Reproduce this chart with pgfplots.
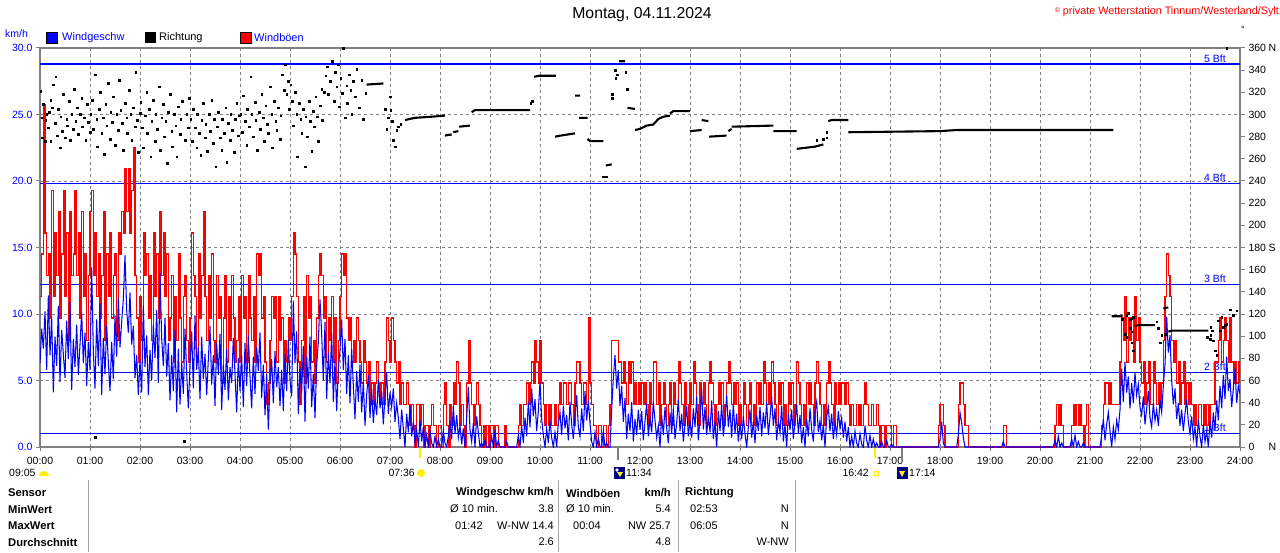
\documentclass[border=0pt]{standalone}
\usepackage{fontspec}
\setmainfont{Liberation Sans}
\usepackage{pgfplots}
\usepackage{pgfplotstable}
\pgfplotsset{compat=1.18}
\definecolor{wblue}{RGB}{0,0,255}
\definecolor{wred}{RGB}{255,0,0}
\definecolor{fgray}{RGB}{128,128,128}
\definecolor{sunyellow}{RGB}{255,240,0}
\definecolor{moonnavy}{RGB}{0,0,128}
\newcommand\tickfont{\fontsize{10.5}{12}\selectfont}
\newcommand\legfont{\fontsize{11}{13}\selectfont}
\newcommand\tabfont{\fontsize{11}{13}\selectfont}
\newcommand\tabbold{\fontsize{11.2}{13}\selectfont\bfseries}

\pgfplotstableread{
t w g
0 6.3 11.3
2 8.9 14.5
4 7.4 25.7
6 10.2 16.1
8 5.8 12.9
10 11.4 14.5
12 6.9 9.7
14 9.8 19.3
16 4.1 11.3
18 8.3 16.1
20 6.1 12.9
22 10.6 17.7
24 4.9 9.7
26 8.8 14.5
28 7.0 19.3
30 5.2 11.3
32 9.5 16.1
34 6.6 8.0
36 10.9 17.7
38 4.3 12.9
40 8.1 14.5
42 6.0 19.3
44 9.2 12.9
46 5.4 16.1
48 7.7 9.7
50 10.1 17.7
52 6.3 11.3
54 8.6 14.5
56 4.6 8.0
58 7.9 12.9
60 5.8 17.7
62 13.5 19.3
64 7.2 12.9
66 4.4 16.1
68 9.6 11.3
70 6.1 14.5
72 10.8 9.7
74 3.9 12.9
76 8.2 17.7
78 5.5 8.0
80 9.1 14.5
82 6.4 11.3
84 4.2 16.1
86 7.9 9.7
88 5.1 12.9
90 9.9 14.5
92 6.8 8.0
94 11.2 16.1
96 7.5 14.5
98 9.4 17.7
100 11.1 16.1
102 14.4 20.9
104 10.3 17.7
106 8.6 20.9
108 11.6 16.1
110 7.7 19.3
112 9.1 22.5
114 5.2 12.9
116 6.9 9.7
118 3.9 6.4
120 6.5 11.3
122 4.1 8.0
124 10.6 16.1
126 6.0 12.9
128 8.4 14.5
130 3.9 9.7
132 7.3 12.9
134 5.0 8.0
136 9.2 16.1
138 6.7 11.3
140 10.3 14.5
142 4.8 9.7
144 13.1 17.7
146 8.2 12.9
148 6.1 16.1
150 9.7 11.3
152 5.3 14.5
154 7.8 8.0
156 3.5 9.7
158 6.9 12.9
160 4.2 6.4
162 8.8 11.3
164 2.6 8.0
166 7.4 14.5
168 3.2 9.7
170 6.3 6.4
172 4.0 11.3
174 8.9 12.9
176 5.6 8.0
178 2.9 6.4
180 6.2 9.7
182 8.7 16.1
184 4.4 12.9
186 9.9 11.3
188 5.8 6.4
190 7.5 14.5
192 3.6 9.7
194 8.3 12.9
196 5.1 17.7
198 7.0 11.3
200 3.9 8.0
202 6.6 12.9
204 9.1 9.7
206 4.7 14.5
208 6.9 8.0
210 3.1 6.4
212 7.8 12.9
214 5.4 9.7
216 8.5 11.3
218 2.8 4.8
220 6.2 9.7
222 4.3 12.9
224 7.4 6.4
226 3.5 11.3
228 6.0 8.0
230 4.8 12.9
232 8.2 9.7
234 5.5 6.4
236 2.6 8.0
238 6.7 11.3
240 4.2 6.4
242 6.9 12.9
244 3.0 9.7
246 7.8 11.3
248 4.6 6.4
250 8.4 12.9
252 5.3 9.7
254 2.9 8.0
256 6.8 11.3
258 4.0 6.4
260 7.5 14.5
262 5.7 12.9
264 8.6 14.5
266 3.7 9.7
268 6.2 11.3
270 2.4 6.4
272 5.5 3.2
274 1.3 4.8
276 4.8 8.0
278 6.6 11.3
280 3.3 9.7
282 7.2 11.3
284 4.5 6.4
286 6.0 11.3
288 3.1 8.0
290 5.8 9.7
292 2.7 4.8
294 7.0 8.0
296 4.2 6.4
298 8.1 9.7
300 5.0 8.0
302 3.8 11.3
304 11.0 16.1
306 6.3 14.5
308 8.7 11.3
310 2.5 6.4
312 5.9 3.2
314 4.1 8.0
316 7.6 11.3
318 1.9 4.8
320 6.8 12.9
322 4.4 9.7
324 8.3 11.3
326 3.0 6.4
328 5.5 8.0
330 2.2 4.8
332 6.1 9.7
334 7.9 12.9
336 11.1 14.5
338 8.5 12.9
340 5.0 9.7
342 9.4 11.3
344 3.6 6.4
346 7.1 9.7
348 4.8 8.0
350 8.6 11.3
352 3.4 6.4
354 6.5 9.7
356 2.7 4.8
358 5.9 8.0
360 7.3 11.3
362 9.6 14.5
364 5.8 12.9
366 8.1 14.5
368 4.0 9.7
370 6.9 8.0
372 3.3 9.7
374 7.4 6.4
376 4.6 8.0
378 2.1 6.4
380 5.7 9.7
382 3.4 8.0
384 6.2 6.4
386 2.6 4.8
388 4.9 8.0
390 1.6 6.4
392 3.9 4.8
394 5.4 6.4
396 2.2 3.2
398 4.4 4.8
400 1.8 3.2
402 3.6 4.8
404 2.4 6.4
406 5.1 4.8
408 2.9 3.2
410 4.2 4.8
412 1.7 3.2
414 3.8 6.4
416 5.6 9.7
418 2.5 8.0
420 4.1 6.4
422 3.0 9.7
424 4.4 8.0
426 1.9 6.4
428 3.3 4.8
430 2.2 6.4
432 0.6 3.2
434 2.8 4.8
436 1.4 3.2
438 0.0 3.2
440 2.5 4.8
442 1.1 3.2
444 3.1 1.6
446 0.8 3.2
448 1.9 1.6
450 0.3 0.0
452 1.3 3.2
454 0.0 3.2
456 2.0 1.6
458 0.4 3.2
460 1.5 0.0
462 0.0 1.6
464 0.9 1.6
466 0.0 0.0
468 1.2 1.6
470 0.3 3.2
472 0.0 1.6
474 0.8 1.6
476 0.0 0.0
478 0.6 1.6
480 0.0 1.6
482 0.0 0.0
484 1.2 3.2
486 0.3 4.8
488 0.0 1.6
490 0.8 0.0
492 1.9 3.2
494 0.6 1.6
496 3.1 4.8
498 1.0 3.2
500 2.4 6.4
502 0.7 4.8
504 1.6 1.6
506 0.2 3.2
508 1.4 1.6
510 0.0 0.0
512 2.2 4.8
514 4.5 8.0
516 1.3 4.8
518 0.4 3.2
520 1.8 1.6
522 0.0 3.2
524 2.3 4.8
526 1.1 3.2
528 0.0 1.6
530 0.3 0.0
532 0.0 1.6
534 0.5 0.0
536 0.0 1.6
538 0.0 0.0
540 0.0 1.6
542 0.8 1.6
544 0.0 0.0
546 1.3 1.6
548 0.0 1.6
550 0.5 0.0
552 0.0 0.0
556 0.0 0.0
558 0.0 1.6
560 0.4 0.0
562 0.0 0.0
572 0.0 0.0
574 0.9 1.6
576 0.0 3.2
578 1.6 1.6
580 0.3 3.2
582 2.2 3.2
584 0.8 4.8
586 3.4 3.2
588 1.5 4.8
590 4.4 6.4
592 2.3 4.8
594 3.6 8.0
596 1.2 6.4
598 2.7 4.8
600 4.9 8.0
602 2.1 4.8
604 0.9 3.2
606 0.0 1.6
608 1.4 3.2
610 0.3 1.6
612 2.0 3.2
614 0.7 1.6
616 0.0 1.6
618 1.1 3.2
620 0.0 1.6
622 1.8 3.2
624 2.6 4.8
626 0.9 3.2
628 3.1 4.8
630 1.4 4.8
632 2.4 3.2
634 0.5 4.8
636 3.4 4.8
638 1.7 3.2
640 0.6 1.6
642 2.3 4.8
644 3.9 6.4
646 1.5 6.4
648 0.8 4.8
650 2.9 3.2
652 1.2 4.8
654 4.2 4.8
656 2.0 3.2
658 3.5 9.7
660 1.8 4.8
662 0.4 3.2
664 0.0 1.6
666 1.1 1.6
668 0.0 0.0
670 0.7 1.6
672 0.0 1.6
674 0.0 0.0
676 1.2 1.6
678 0.0 1.6
680 0.3 0.0
682 0.0 1.6
684 0.0 3.2
686 2.8 8.0
688 5.2 8.0
690 6.9 8.0
692 4.4 8.0
694 5.8 6.4
696 3.1 6.4
698 4.6 4.8
700 1.9 6.4
702 3.7 4.8
704 0.6 3.2
706 2.5 6.4
708 1.2 4.8
710 3.4 6.4
712 0.4 3.2
714 2.1 4.8
716 0.9 3.2
718 2.8 4.8
720 1.3 3.2
722 2.7 4.8
724 0.5 3.2
726 1.9 4.8
728 3.3 3.2
730 0.8 1.6
732 2.2 4.8
734 1.1 3.2
736 3.4 6.4
738 2.0 6.4
740 0.7 3.2
742 1.6 4.8
744 0.0 1.6
746 2.4 3.2
748 0.9 4.8
750 3.0 3.2
752 1.4 1.6
754 0.3 3.2
756 2.6 4.8
758 1.0 1.6
760 2.9 4.8
762 0.6 3.2
764 1.8 3.2
766 3.6 6.4
768 1.2 4.8
770 2.5 3.2
772 0.4 1.6
774 1.7 4.8
776 3.1 3.2
778 0.8 1.6
780 2.0 4.8
782 0.7 3.2
784 2.9 6.4
786 1.5 4.8
788 3.8 3.2
790 0.5 1.6
792 2.2 4.8
794 4.4 3.2
796 1.3 4.8
798 3.0 3.2
800 0.9 1.6
802 2.4 4.8
804 1.1 6.4
806 3.5 4.8
808 0.6 3.2
810 1.9 1.6
812 0.0 3.2
814 2.7 4.8
816 1.2 3.2
818 3.2 4.8
820 0.8 1.6
822 2.1 3.2
824 3.9 4.8
826 1.5 6.4
828 2.8 4.8
830 0.7 3.2
832 3.3 4.8
834 1.0 3.2
836 2.5 4.8
838 0.4 1.6
840 1.8 3.2
842 0.6 1.6
844 2.3 4.8
846 1.0 3.2
848 0.0 1.6
850 1.5 3.2
852 2.8 4.8
854 0.7 1.6
856 1.9 3.2
858 0.3 1.6
860 2.4 4.8
862 1.2 3.2
864 3.0 4.8
866 0.8 3.2
868 2.6 6.4
870 1.4 4.8
872 3.4 3.2
874 0.9 4.8
876 2.2 3.2
878 3.8 6.4
880 1.6 4.8
882 2.9 3.2
884 0.5 1.6
886 2.0 4.8
888 1.1 3.2
890 3.1 4.8
892 0.4 1.6
894 1.7 3.2
896 0.0 1.6
898 2.5 4.8
900 1.3 3.2
902 2.8 4.8
904 0.6 1.6
906 1.9 3.2
908 3.2 6.4
910 1.0 4.8
912 2.4 3.2
914 0.3 1.6
916 1.5 3.2
918 0.0 1.6
920 2.1 4.8
922 0.8 3.2
924 2.9 4.8
926 1.3 3.2
928 0.4 1.6
930 2.6 4.8
932 3.4 6.4
934 1.1 4.8
936 2.0 3.2
938 0.5 1.6
940 1.7 3.2
942 0.0 1.6
944 2.3 4.8
946 3.0 6.4
948 1.2 4.8
950 2.5 3.2
952 0.6 1.6
954 1.8 4.8
956 0.9 3.2
958 2.7 4.8
960 1.4 3.2
962 2.2 4.8
964 0.7 4.8
966 1.9 3.2
968 0.4 4.8
970 1.5 3.2
972 0.0 1.6
974 0.8 3.2
976 0.0 1.6
978 1.2 1.6
980 0.3 3.2
982 0.0 1.6
984 1.0 3.2
986 0.2 1.6
988 0.0 3.2
990 1.6 4.8
992 0.5 3.2
994 0.0 1.6
996 0.9 1.6
998 0.0 3.2
1000 0.6 1.6
1002 0.0 1.6
1004 0.3 3.2
1006 0.0 1.6
1008 0.0 0.0
1010 0.4 1.6
1012 0.0 1.6
1014 0.0 0.0
1016 0.5 1.6
1018 0.0 1.6
1020 0.0 1.6
1022 0.2 0.0
1024 0.0 1.6
1026 0.0 1.6
1028 0.0 0.0
1076 0.0 0.0
1078 0.0 1.6
1080 0.6 3.2
1082 1.9 3.2
1084 0.3 1.6
1086 0.0 0.0
1100 0.0 0.0
1102 0.9 3.2
1104 2.6 4.8
1106 1.8 4.8
1108 0.7 3.2
1110 0.0 1.6
1112 0.0 1.6
1114 0.0 0.0
1154 0.0 0.0
1156 0.4 1.6
1158 0.0 1.6
1160 0.0 0.0
1216 0.0 0.0
1218 0.5 1.6
1220 0.0 3.2
1222 0.8 1.6
1224 0.0 3.2
1226 0.3 1.6
1228 0.0 0.0
1236 0.0 0.0
1238 0.6 1.6
1240 0.0 3.2
1242 0.9 1.6
1244 0.0 3.2
1246 0.4 1.6
1248 0.0 3.2
1250 0.0 1.6
1252 0.3 0.0
1254 0.0 1.6
1256 0.0 3.2
1258 0.0 0.0
1272 0.0 0.0
1274 0.9 1.6
1276 2.1 3.2
1278 0.5 4.8
1280 1.7 4.8
1282 2.6 3.2
1284 1.2 4.8
1286 0.0 3.2
1288 1.5 3.2
1290 0.6 3.2
1292 2.0 3.2
1294 1.3 3.2
1296 2.8 6.4
1298 5.9 9.7
1300 3.4 8.0
1302 6.4 11.3
1304 4.1 6.4
1306 5.3 9.7
1308 2.9 8.0
1310 4.8 9.7
1312 3.3 6.4
1314 5.6 11.3
1316 3.9 8.0
1318 4.7 9.7
1320 3.0 6.4
1322 2.4 4.8
1324 3.8 6.4
1326 1.7 3.2
1328 2.9 4.8
1330 4.2 6.4
1332 2.2 3.2
1334 1.5 3.2
1336 3.3 6.4
1338 2.0 4.8
1340 2.8 3.2
1342 1.6 4.8
1344 3.5 3.2
1346 2.6 4.8
1348 4.6 8.0
1350 6.2 11.3
1352 9.8 14.5
1354 7.1 12.9
1356 8.4 11.3
1358 5.0 8.0
1360 3.2 6.4
1362 4.4 8.0
1364 2.1 4.8
1366 3.3 6.4
1368 1.6 3.2
1370 2.8 4.8
1372 1.2 6.4
1374 2.5 3.2
1376 3.6 4.8
1378 1.9 3.2
1380 1.0 4.8
1382 2.3 3.2
1384 0.6 1.6
1386 1.5 3.2
1388 0.0 1.6
1390 2.1 3.2
1392 0.8 3.2
1394 0.0 1.6
1396 1.7 3.2
1398 0.4 1.6
1400 1.2 3.2
1402 0.0 1.6
1404 1.9 3.2
1406 0.7 3.2
1408 2.6 3.2
1410 1.3 6.4
1412 3.5 6.4
1414 2.0 8.0
1416 4.6 9.7
1418 2.9 6.4
1420 5.4 8.0
1422 3.6 9.7
1424 6.8 8.0
1426 4.2 6.4
1428 5.1 9.7
1430 3.0 6.4
1432 4.4 4.8
1434 5.9 6.4
1436 3.3 4.8
1438 4.6 6.4
1440 4.0 4.8
}\wind

\pgfplotstableread{
t d
1 321
2 297
3 279
4 309
6 276
7 295
8 300
10 288
11 302
13 313
13 276
15 306
16 327
18 292
19 334
21 281
22 305
24 270
25 298
27 285
28 318
30 279
32 296
33 290
35 312
36 277
38 300
40 287
41 323
43 294
45 306
46 282
48 300
50 315
51 289
53 297
55 277
57 309
58 293
60 284
61 300
63 313
64 287
66 336
66 9
68 296
69 271
71 305
72 320
74 283
76 297
77 264
79 309
80 290
82 328
84 278
85 302
87 293
88 316
90 272
92 300
94 286
95 331
97 304
99 292
100 268
102 310
104 297
105 283
107 322
109 300
110 277
112 306
114 289
115 338
117 295
118 266
120 301
121 311
123 288
124 270
126 299
128 320
129 283
131 305
133 262
134 294
136 313
138 276
139 300
141 287
143 325
144 268
146 297
148 309
149 280
151 294
153 256
154 302
156 318
158 285
159 271
161 300
163 290
164 262
166 307
168 282
169 296
171 312
173 5
174 277
176 300
178 288
179 315
181 296
183 276
184 305
186 288
188 270
189 300
191 283
193 263
194 295
196 310
198 279
199 291
201 267
203 300
204 285
206 313
208 274
209 296
211 253
213 289
214 302
216 279
218 268
219 296
221 283
223 306
224 257
226 292
228 277
229 300
231 286
233 266
234 296
236 310
238 281
239 299
241 300
243 284
244 317
246 294
248 272
249 305
251 289
253 334
254 300
256 280
258 311
259 295
261 268
263 302
264 287
266 318
268 297
269 276
271 308
273 291
274 283
276 325
278 300
279 270
281 312
283 294
284 286
286 306
288 278
289 299
291 336
293 322
294 345
296 318
298 330
299 305
301 327
303 312
304 290
306 320
308 300
309 262
311 310
313 296
314 283
316 305
318 253
319 298
321 280
323 312
324 294
326 267
328 303
329 289
331 316
333 298
334 276
336 308
338 323
339 295
341 320
343 335
345 343
346 318
348 330
351 348
353 312
354 338
356 325
358 345
359 307
361 333
363 319
364 360
366 297
368 326
369 310
371 336
373 322
374 300
376 330
378 316
380 341
383 306
386 331
388 296
391 319
414 305
416 287
418 297
420 316
421 304
423 294
424 277
426 271
428 286
430 289
433 291
589 310
591 312
676 244
678 244
680 244
687 318
687 315
690 340
691 333
693 336
703 338
705 323
932 277
940 278
944 279
944 284
1299 115
1302 102
1304 99
1304 119
1306 121
1308 115
1308 107
1310 104
1310 116
1310 94
1312 117
1312 87
1340 113
1342 107
1344 94
1346 101
1350 102
1401 99
1404 97
1405 101
1405 108
1407 105
1408 96
1410 87
1412 83
1414 114
1416 105
1418 117
1420 108
1422 110
1424 111
1424 360
1428 124
1432 119
1436 123
}\dirdots

\pgfplotstableread{
t d
392 327
412 328
nan nan
438 295
450 297
470 298
486 299
nan nan
486 281
494 282
nan nan
496 284
502 285
nan nan
503 289
516 290
nan nan
518 302
522 304
588 304
nan nan
593 334
599 335
619 335
nan nan
618 280
625 281
642 283
nan nan
642 317
648 317
nan nan
647 297
657 297
nan nan
657 278
660 276
676 276
nan nan
679 254
686 255
nan nan
695 348
702 348
nan nan
705 306
714 305
nan nan
714 286
720 287
728 290
736 291
742 296
748 298
756 299
nan nan
756 301
760 303
780 303
nan nan
780 285
794 286
nan nan
794 295
802 294
nan nan
803 280
824 281
nan nan
826 285
830 287
nan nan
830 289
880 290
nan nan
880 285
908 285
nan nan
908 269
930 271
940 273
nan nan
946 294
950 295
970 295
nan nan
970 284
1080 285
1100 286
1288 286
nan nan
1286 118
1299 118
nan nan
1314 109
1318 110
1338 110
nan nan
1348 125
1354 126
nan nan
1354 104
1358 105
1402 105
}\dirsegs

\begin{document}
\begin{tikzpicture}[x=1pt,y=1pt]
\path[use as bounding box] (0,0) rectangle (1280,552);

\begin{axis}[
  at={(40pt,105pt)}, anchor=south west,
  width=1200pt, height=399pt, scale only axis,
  xmin=0, xmax=1440, ymin=0, ymax=30,
  axis line style={draw=fgray, line width=2.5pt},
  xtick={0,60,...,1440},
  xticklabels={00:00,01:00,02:00,03:00,04:00,05:00,06:00,07:00,08:00,09:00,10:00,11:00,12:00,13:00,14:00,15:00,16:00,17:00,18:00,19:00,20:00,21:00,22:00,23:00,24:00},
  ytick={0,5,...,30},
  yticklabels={0.0,5.0,10.0,15.0,20.0,25.0,30.0},
  xtick pos=left, ytick pos=left,
  tick align=outside, major tick length=4pt,
  every tick/.style={draw=fgray, line width=1pt},
  xticklabel style={font=\tickfont, text=black, yshift=-3pt},
  yticklabel style={font=\tickfont, text=wblue},
  grid=major,
  major grid style={draw=fgray, line width=0.9pt, dash pattern=on 3pt off 3pt},
]
\addplot[wblue, line width=1.2pt, forget plot] coordinates {(0,1.0) (1440,1.0)};
\addplot[wblue, line width=1.2pt, forget plot] coordinates {(0,5.6) (1440,5.6)};
\addplot[wblue, line width=1.2pt, forget plot] coordinates {(0,12.2) (1440,12.2)};
\addplot[wblue, line width=1.2pt, forget plot] coordinates {(0,19.8) (1440,19.8)};
\addplot[wblue, line width=1.2pt, forget plot] coordinates {(0,28.8) (1440,28.8)};
\node[anchor=south east, text=wblue, font=\tickfont, inner sep=1.5pt] at (axis cs:1425,28.8) {5 Bft};
\node[anchor=south east, text=wblue, font=\tickfont, inner sep=1.5pt] at (axis cs:1425,19.8) {4 Bft};
\node[anchor=south east, text=wblue, font=\tickfont, inner sep=1.5pt] at (axis cs:1425,12.2) {3 Bft};
\node[anchor=south east, text=wblue, font=\tickfont, inner sep=1.5pt] at (axis cs:1425,5.6) {2 Bft};
\node[anchor=south east, text=wblue, font=\tickfont, inner sep=1.5pt] at (axis cs:1425,1.0) {1 Bft};
\addplot[wred, const plot, line width=1.4pt] table[x=t,y=g] {\wind};
\addplot[wblue, line width=1.05pt] table[x=t,y=w] {\wind};
\end{axis}

\begin{axis}[
  at={(40pt,105pt)}, anchor=south west,
  width=1200pt, height=399pt, scale only axis,
  xmin=0, xmax=1440, ymin=0, ymax=360,
  hide x axis,
  axis line style={draw=none},
  ytick pos=right,
  ytick={0,20,...,360},
  yticklabels={\makebox[20pt][l]{0}N,20,40,60,80,100,120,140,160,\makebox[20pt][l]{180}S,200,220,240,260,280,300,320,340,\makebox[20pt][l]{360}N},
  tick align=outside, major tick length=5pt,
  every tick/.style={draw=fgray, line width=1pt},
  yticklabel style={font=\tickfont, text=black, anchor=west},
  clip=false,
]
\addplot[black, line width=2.1pt, unbounded coords=jump] table[x=t,y=d] {\dirsegs};
\addplot[only marks, mark=square*, mark size=0.85pt, black] table[x=t,y=d] {\dirdots};
\end{axis}

% title and header
\node[font=\fontsize{15.8}{18}\selectfont] at (642,537) {Montag, 04.11.2024};
\node[anchor=east, text=wred, font=\fontsize{10.8}{12}\selectfont, inner sep=0pt] at (1279,540) {\raisebox{2pt}{\fontsize{7}{7}\selectfont ©} private Wetterstation Tinnum/Westerland/Sylt};
\node[anchor=west, text=wblue, font=\tickfont, inner sep=0pt] at (5,518) {km/h};
\node[font=\fontsize{9}{9}\selectfont, inner sep=0pt] at (1243,523) {°};
% legend
\fill[wblue] (46,509) rectangle (57,520); \draw[black, line width=0.8pt] (46,509) rectangle (57,520);
\node[anchor=west, text=wblue, font=\legfont, inner sep=0pt] at (62,514) {Windgeschw};
\fill[black] (145,509) rectangle (156,520);
\node[anchor=west, text=black, font=\legfont, inner sep=0pt] at (159,514) {Richtung};
\fill[wred] (240,509) rectangle (251,520); \draw[black, line width=0.8pt] (240,509) rectangle (251,520);
\node[anchor=west, text=wblue, font=\legfont, inner sep=0pt] at (254,514) {Windböen};

% sun / moon markers
\draw[sunyellow, line width=2pt] (420,104) -- (420,94);
\draw[sunyellow, line width=2pt] (875,104) -- (875,94);
\draw[fgray, line width=2.5pt] (618,104) -- (618,92);
\draw[fgray, line width=2.5pt] (902,104) -- (902,92);
\node[anchor=west, font=\tickfont, inner sep=0pt] at (9,79) {09:05};
\fill[sunyellow] (49,76) arc[start angle=0, end angle=180, radius=5] -- cycle;
\node[anchor=east, font=\tickfont, inner sep=0pt] at (415,79) {07:36};
\fill[sunyellow] (421,79) circle (4);
\fill[moonnavy] (614,73) rectangle (625,85);
\fill[white] (617,82) circle (1.8);
\fill[sunyellow] (620,75) -- (623,80) -- (617,80) -- cycle;
\node[anchor=west, font=\tickfont, inner sep=0pt] at (626,79) {11:34};
\node[anchor=east, font=\tickfont, inner sep=0pt] at (869,79) {16:42};
\draw[sunyellow, line width=0.8pt] (874,77) rectangle (878,81);
\fill[moonnavy] (897,73) rectangle (908,85);
\fill[sunyellow] (902,75) -- (905,81) -- (899,81) -- cycle;
\node[anchor=west, font=\tickfont, inner sep=0pt] at (909,79) {17:14};

% statistics table
\foreach \xx in {88,558,678,795} {\draw[fgray!70, line width=1pt] (\xx,0) -- (\xx,72);}
\node[anchor=west, font=\tabbold, inner sep=0pt] at (8,59) {Sensor};
\node[anchor=west, font=\tabbold, inner sep=0pt] at (8,43) {MinWert};
\node[anchor=west, font=\tabbold, inner sep=0pt] at (8,26) {MaxWert};
\node[anchor=west, font=\tabbold, inner sep=0pt] at (8,10) {Durchschnitt};

\node[anchor=east, font=\tabbold, inner sep=0pt] at (554,59) {Windgeschw km/h};
\node[anchor=west, font=\tabfont, inner sep=0pt] at (450,43) {Ø 10 min.};
\node[anchor=east, font=\tabfont, inner sep=0pt] at (554,43) {3.8};
\node[anchor=west, font=\tabfont, inner sep=0pt] at (455,26) {01:42};
\node[anchor=east, font=\tabfont, inner sep=0pt] at (554,26) {W-NW 14.4};
\node[anchor=east, font=\tabfont, inner sep=0pt] at (554,10) {2.6};

\node[anchor=west, font=\tabbold, inner sep=0pt] at (566,59) {Windböen};
\node[anchor=east, font=\tabbold, inner sep=0pt] at (671,59) {km/h};
\node[anchor=west, font=\tabfont, inner sep=0pt] at (566,43) {Ø 10 min.};
\node[anchor=east, font=\tabfont, inner sep=0pt] at (671,43) {5.4};
\node[anchor=west, font=\tabfont, inner sep=0pt] at (573,26) {00:04};
\node[anchor=east, font=\tabfont, inner sep=0pt] at (671,26) {NW 25.7};
\node[anchor=east, font=\tabfont, inner sep=0pt] at (671,10) {4.8};

\node[anchor=west, font=\tabbold, inner sep=0pt] at (685,59) {Richtung};
\node[anchor=west, font=\tabfont, inner sep=0pt] at (690,43) {02:53};
\node[anchor=east, font=\tabfont, inner sep=0pt] at (789,43) {N};
\node[anchor=west, font=\tabfont, inner sep=0pt] at (690,26) {06:05};
\node[anchor=east, font=\tabfont, inner sep=0pt] at (789,26) {N};
\node[anchor=east, font=\tabfont, inner sep=0pt] at (789,10) {W-NW};
\end{tikzpicture}
\end{document}
